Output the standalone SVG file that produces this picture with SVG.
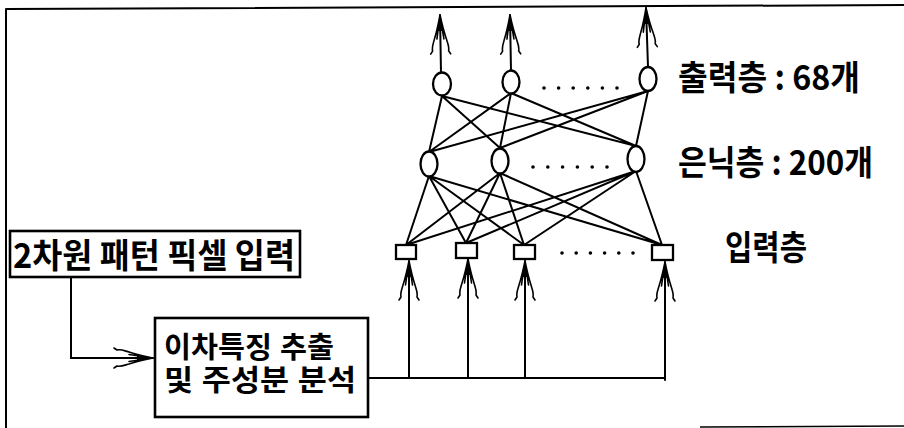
<svg xmlns="http://www.w3.org/2000/svg" width="904" height="428" viewBox="0 0 904 428">
<style>
.ln{stroke:#000;stroke-width:2;fill:none;stroke-linecap:round}
.nd{stroke:#000;stroke-width:2.3;fill:#fff}
.bx{stroke:#000;stroke-width:2.6;fill:#fff}
.tx{font-family:"Noto Sans CJK KR","Noto Sans",sans-serif;font-weight:700;fill:#000}
.tx2{font-family:"Liberation Sans","Noto Sans CJK KR",sans-serif;font-weight:700;fill:#000}
.dot{fill:#000}
</style>
<defs>
<marker id="fa" viewBox="-40 -12 42 24" refX="0" refY="0" markerWidth="42" markerHeight="24" markerUnits="userSpaceOnUse" orient="auto" overflow="visible">
<path d="M0,0 L-16,-2.5 L-16,2.5 Z" fill="#000"/>
<path d="M0,0 C-10,-2 -18,-4 -24,-6 C-28,-7 -32,-9 -36,-8 L-39,-10 M0,0 C-10,2 -18,4 -24,6 C-28,7 -32,9 -36,8 L-39,10 M0,0 L-24,-3.5 M0,0 L-24,3.5" fill="none" stroke="#000" stroke-width="1.6" stroke-linecap="round" stroke-linejoin="round"/>
</marker>
</defs>
<rect width="904" height="428" fill="#fff"/>
<g id="frame">
<path class="ln" d="M6,9 L904,5 M6,9 L6,428"/>
<path d="M700,427 L904,426" stroke="#000" stroke-width="1.5" fill="none"/>
</g>
<g id="connectors">
<path class="ln" d="M442,96 L429,152 M442,96 L500,148 M442,96 L636,146 M511,93 L429,152 M511,93 L500,148 M511,93 L636,146 M648,91 L429,152 M648,91 L500,148 M648,91 L636,146"/>
<path class="ln" d="M429,176 L406,245 M429,176 L466,243 M429,176 L524,245 M429,176 L662,245 M500,173 L406,245 M500,173 L466,243 M500,173 L524,245 M500,173 L662,245 M636,171 L406,245 M636,171 L466,243 M636,171 L524,245 M636,171 L662,245"/>
<path class="ln" d="M441,73 L440,15" marker-end="url(#fa)"/>
<path class="ln" d="M511,71 L510,15" marker-end="url(#fa)"/>
<path class="ln" d="M648,67 L646,8" marker-end="url(#fa)"/>
<path class="ln" d="M368,378 L665,378"/>
<path class="ln" d="M409,378 L409,261" marker-end="url(#fa)"/>
<path class="ln" d="M468,378 L468,259" marker-end="url(#fa)"/>
<path class="ln" d="M525,378 L525,261" marker-end="url(#fa)"/>
<path class="ln" d="M665,380 L665,262" marker-end="url(#fa)"/>
<path class="ln" d="M71,277 L71,358 L153,358" marker-end="url(#fa)"/>
</g>
<g id="o1"><ellipse class="nd" cx="442" cy="84" rx="9" ry="11.5"/></g>
<g id="o2"><ellipse class="nd" cx="511" cy="82" rx="8.5" ry="11.5"/></g>
<g id="o3"><ellipse class="nd" cx="648" cy="79" rx="8.5" ry="12"/></g>
<g id="h1"><ellipse class="nd" cx="429" cy="164" rx="8.5" ry="12.5"/></g>
<g id="h2"><ellipse class="nd" cx="500" cy="161" rx="8.5" ry="12.5"/></g>
<g id="h3"><ellipse class="nd" cx="636" cy="159" rx="8.5" ry="13"/></g>
<g id="i1"><rect class="nd" x="396" y="245" width="20" height="14"/></g>
<g id="i2"><rect class="nd" x="456" y="243" width="21" height="15"/></g>
<g id="i3"><rect class="nd" x="514" y="245" width="21" height="14"/></g>
<g id="i4"><rect class="nd" x="652" y="245" width="21" height="15"/></g>
<g id="dots">
<circle class="dot" cx="544" cy="88" r="1.8"/><circle class="dot" cx="558.6" cy="88" r="1.8"/><circle class="dot" cx="573.2" cy="88" r="1.8"/><circle class="dot" cx="587.8" cy="88" r="1.8"/><circle class="dot" cx="602.4" cy="88" r="1.8"/><circle class="dot" cx="617" cy="88" r="1.8"/>
<circle class="dot" cx="533" cy="167" r="1.8"/><circle class="dot" cx="547.8" cy="167" r="1.8"/><circle class="dot" cx="562.6" cy="167" r="1.8"/><circle class="dot" cx="577.4" cy="167" r="1.8"/><circle class="dot" cx="592.2" cy="167" r="1.8"/><circle class="dot" cx="607" cy="167" r="1.8"/>
<circle class="dot" cx="562" cy="253" r="1.8"/><circle class="dot" cx="576.2" cy="253" r="1.8"/><circle class="dot" cx="590.4" cy="253" r="1.8"/><circle class="dot" cx="604.6" cy="253" r="1.8"/><circle class="dot" cx="618.8" cy="253" r="1.8"/><circle class="dot" cx="633" cy="253" r="1.8"/>
</g>
<g id="box1">
<rect class="bx" x="10" y="231" width="290" height="46"/>
<text class="tx" x="13" y="268" font-size="34" textLength="282" lengthAdjust="spacingAndGlyphs">2차원 패턴 픽셀 입력</text>
</g>
<g id="box2">
<rect class="bx" x="155" y="318" width="213" height="99"/>
<text class="tx2" x="164" y="358" font-size="29" textLength="170" lengthAdjust="spacingAndGlyphs">이차특징 추출</text>
<text class="tx2" x="164" y="391" font-size="29" textLength="192" lengthAdjust="spacingAndGlyphs">및 주성분 분석</text>
</g>
<g id="labels">
<text class="tx" x="678" y="90" font-size="34" textLength="182" lengthAdjust="spacingAndGlyphs">출력층 : 68개</text>
<text class="tx" x="678" y="175" font-size="34" textLength="195" lengthAdjust="spacingAndGlyphs">은닉층 : 200개</text>
<text class="tx" x="725" y="260" font-size="34" textLength="82" lengthAdjust="spacingAndGlyphs">입력층</text>
</g>
</svg>
